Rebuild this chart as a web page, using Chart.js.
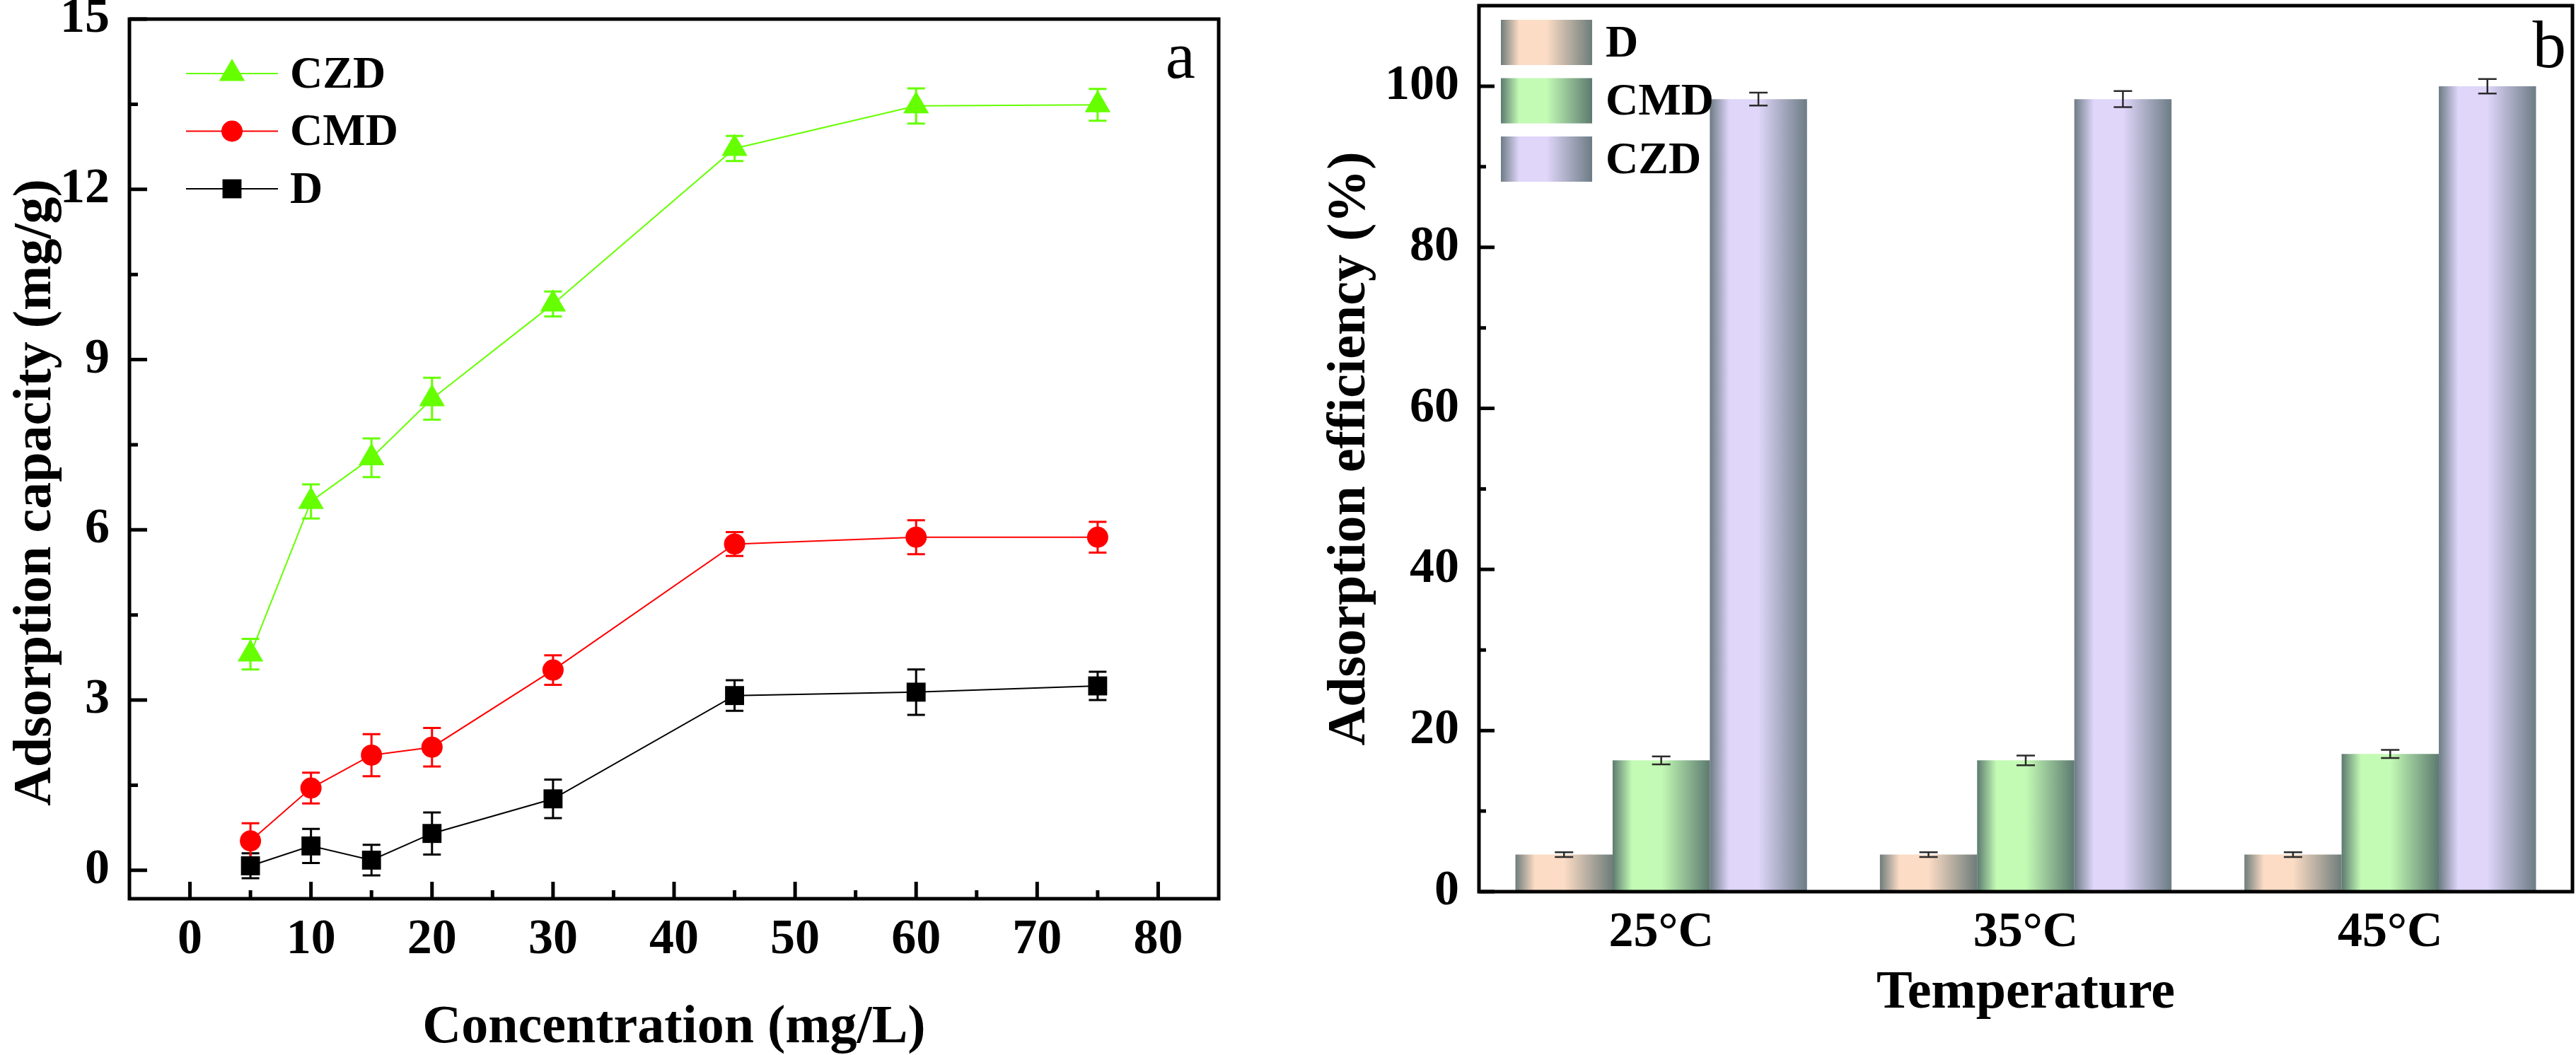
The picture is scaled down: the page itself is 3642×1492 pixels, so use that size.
<!DOCTYPE html>
<html>
<head>
<meta charset="utf-8">
<script src="https://cdn.jsdelivr.net/npm/chart.js@4.4.1/dist/chart.umd.min.js"></script>
<style>
  html, body { margin: 0; padding: 0; background: #fff; }
  #wrap { position: relative; width: 3642px; height: 1492px; }
  canvas { position: absolute; top: 0; }
</style>
</head>
<body>
<div id="wrap">
  <canvas id="capacity" width="1800" height="1492" style="left:0"></canvas>
  <canvas id="efficiency" width="1842" height="1492" style="left:1800px"></canvas>
</div>
<script>
// panel a: adsorption capacity vs concentration
const concentration = [5, 10, 15, 20, 30, 45, 60, 75];
const capD = [0.08, 0.43, 0.18, 0.65, 1.26, 3.08, 3.14, 3.25];
const capDErr = [0.22, 0.30, 0.27, 0.37, 0.34, 0.27, 0.40, 0.25];
const capCMD = [0.52, 1.45, 2.03, 2.17, 3.53, 5.75, 5.87, 5.87];
const capCMDErr = [0.31, 0.27, 0.37, 0.34, 0.26, 0.21, 0.30, 0.27];
const capCZD = [3.81, 6.50, 7.27, 8.31, 9.98, 12.72, 13.47, 13.49];
const capCZDErr = [0.27, 0.30, 0.34, 0.37, 0.22, 0.22, 0.31, 0.28];
const concTicks = [0, 10, 20, 30, 40, 50, 60, 70, 80];
const concMinor = [5, 15, 25, 35, 45, 55, 65, 75];
const capTicks = [0, 3, 6, 9, 12, 15];
const capMinor = [1.5, 4.5, 7.5, 10.5, 13.5];

// panel b: adsorption efficiency vs temperature
const temperatures = ['25\u00B0C', '35\u00B0C', '45\u00B0C'];
const effD = [4.6, 4.6, 4.6];
const effDErr = [0.3, 0.3, 0.3];
const effCMD = [16.3, 16.3, 17.1];
const effCMDErr = [0.5, 0.6, 0.5];
const effCZD = [98.4, 98.4, 100.0];
const effCZDErr = [0.8, 1.0, 0.9];
const effTicks = [0, 20, 40, 60, 80, 100];
const effMinor = [10, 30, 50, 70, 90];

const SERIF = '"Liberation Serif", "Times New Roman", serif';
const tickFont = { family: SERIF, size: 70, weight: 'bold' };
const titleFont = { family: SERIF, size: 76, weight: 'bold', lineHeight: 1 };

function valueOf(d) { return typeof d === 'object' ? d.y : d; }

function drawErrors(chart, opts) {
  const ctx = chart.ctx;
  const yScale = chart.scales.y;
  chart.data.datasets.forEach((ds, di) => {
    if (!ds.errors) return;
    const meta = chart.getDatasetMeta(di);
    ctx.save();
    ctx.strokeStyle = opts.color || ds.borderColor;
    ctx.lineWidth = opts.width;
    meta.data.forEach((el, i) => {
      const v = valueOf(ds.data[i]);
      const e = ds.errors[i];
      const top = yScale.getPixelForValue(v + e);
      const bot = yScale.getPixelForValue(v - e);
      const half = opts.cap / 2;
      ctx.beginPath();
      ctx.moveTo(el.x, top); ctx.lineTo(el.x, bot);
      ctx.moveTo(el.x - half, top); ctx.lineTo(el.x + half, top);
      ctx.moveTo(el.x - half, bot); ctx.lineTo(el.x + half, bot);
      ctx.stroke();
    });
    ctx.restore();
  });
}

const errorBars = {
  id: 'errorBars',
  beforeDatasetsDraw(chart, args, opts) { if (opts.under) drawErrors(chart, opts); },
  afterDatasetsDraw(chart, args, opts) { if (!opts.under) drawErrors(chart, opts); }
};

// cylinder-like shading on each bar
const barShade = {
  id: 'barShade',
  beforeDatasetsDraw(chart) {
    const ctx = chart.ctx;
    chart.data.datasets.forEach((ds, di) => {
      if (!ds.shade) return;
      chart.getDatasetMeta(di).data.forEach(el => {
        const x0 = el.x - el.width / 2, x1 = el.x + el.width / 2;
        const g = ctx.createLinearGradient(x0, 0, x1, 0);
        g.addColorStop(0, ds.shade[0]);
        g.addColorStop(0.2, ds.shade[1]);
        g.addColorStop(0.5, ds.shade[1]);
        g.addColorStop(1, ds.shade[0]);
        el.options.backgroundColor = g;
      });
    });
  }
};

// box frame with inward ticks and the panel letter
const axesFrame = {
  id: 'axesFrame',
  afterDraw(chart, args, o) {
    const { ctx, chartArea: a, scales } = chart;
    ctx.save();
    ctx.strokeStyle = '#000';
    ctx.lineWidth = o.tickWidth;
    ctx.beginPath();
    if (o.xMajor) {
      scales.x.ticks.forEach(t => {
        const px = scales.x.getPixelForValue(t.value);
        ctx.moveTo(px, a.bottom); ctx.lineTo(px, a.bottom - o.xMajor);
      });
      (o.xMinorValues || []).forEach(v => {
        const px = scales.x.getPixelForValue(v);
        ctx.moveTo(px, a.bottom); ctx.lineTo(px, a.bottom - o.xMinor);
      });
    }
    scales.y.ticks.forEach(t => {
      const py = scales.y.getPixelForValue(t.value);
      ctx.moveTo(a.left, py); ctx.lineTo(a.left + o.yMajor, py);
    });
    (o.yMinorValues || []).forEach(v => {
      const py = scales.y.getPixelForValue(v);
      ctx.moveTo(a.left, py); ctx.lineTo(a.left + o.yMinor, py);
    });
    ctx.stroke();
    ctx.lineWidth = o.frameWidth;
    ctx.strokeRect(a.left, a.top, a.right - a.left, a.bottom - a.top);
    ctx.fillStyle = '#000';
    ctx.font = 'normal 95px ' + SERIF;
    ctx.textAlign = 'right';
    ctx.textBaseline = 'alphabetic';
    ctx.fillText(o.letter, a.right + o.letterDx, a.top + o.letterDy);
    ctx.restore();
  }
};

const insetLegend = {
  id: 'insetLegend',
  afterDraw(chart, args, o) {
    const { ctx, chartArea: a } = chart;
    let items = chart.data.datasets.slice();
    if (o.reverse) items.reverse();
    ctx.save();
    ctx.font = 'bold 64px ' + SERIF;
    ctx.fillStyle = '#000';
    ctx.textAlign = 'left';
    ctx.textBaseline = 'middle';
    items.forEach((ds, i) => {
      const x0 = a.left + o.dx;
      const y = a.top + o.dy + i * o.rowGap;
      if (o.kind === 'line') {
        ctx.strokeStyle = ds.borderColor;
        ctx.lineWidth = 2;
        ctx.beginPath(); ctx.moveTo(x0, y); ctx.lineTo(x0 + 130, y); ctx.stroke();
        ctx.fillStyle = ds.backgroundColor;
        Chart.helpers.drawPoint(ctx, { pointStyle: ds.pointStyle, radius: ds.pointRadius, rotation: 0, borderWidth: 0 }, x0 + 65, y);
        ctx.fillStyle = '#000';
        ctx.fillText(ds.label, x0 + 147, y + 3);
      } else {
        const g = ctx.createLinearGradient(x0, 0, x0 + 129, 0);
        g.addColorStop(0, ds.shade[0]);
        g.addColorStop(0.2, ds.shade[1]);
        g.addColorStop(0.5, ds.shade[1]);
        g.addColorStop(1, ds.shade[0]);
        ctx.fillStyle = g;
        ctx.fillRect(x0, y, 129, 64);
        ctx.fillStyle = '#000';
        ctx.fillText(ds.label, x0 + 148, y + 35);
      }
    });
    ctx.restore();
  }
};

function lineSeries(label, ys, errs, color, style, radius) {
  return {
    label: label,
    data: concentration.map((x, i) => ({ x: x, y: ys[i] })),
    errors: errs,
    borderColor: color,
    backgroundColor: color,
    borderWidth: 2,
    pointStyle: style,
    pointRadius: radius,
    pointBorderWidth: 0,
    pointBackgroundColor: color
  };
}

new Chart(document.getElementById('capacity'), {
  type: 'line',
  data: {
    datasets: [
      lineSeries('D', capD, capDErr, '#000000', 'rect', 19),
      lineSeries('CMD', capCMD, capCMDErr, '#ff0000', 'circle', 15),
      lineSeries('CZD', capCZD, capCZDErr, '#66ff00', 'triangle', 21)
    ]
  },
  options: {
    responsive: false,
    animation: false,
    devicePixelRatio: 1,
    layout: { padding: { top: 27, right: 77, left: 0, bottom: 0 } },
    plugins: {
      legend: { display: false },
      tooltip: { enabled: false },
      errorBars: { under: true, width: 3, cap: 25 },
      axesFrame: { tickWidth: 5, frameWidth: 5, xMajor: 24, xMinor: 12, xMinorValues: concMinor,
                   yMajor: 25, yMinor: 12, yMinorValues: capMinor, letter: 'a', letterDx: -33, letterDy: 83 },
      insetLegend: { kind: 'line', reverse: true, dx: 80, dy: 77, rowGap: 81.5 }
    },
    scales: {
      x: {
        type: 'linear', min: -5, max: 85,
        afterBuildTicks: s => { s.ticks = concTicks.map(v => ({ value: v })); },
        afterFit: s => { s.height = 221; s.paddingLeft = 0; s.paddingRight = 0; },
        grid: { display: false, drawTicks: false },
        border: { display: false },
        ticks: { font: tickFont, color: '#000', padding: 17, maxRotation: 0, autoSkip: false },
        title: { display: true, text: 'Concentration (mg/L)', font: titleFont, color: '#000', padding: { top: 0, bottom: 0 } }
      },
      y: {
        min: -0.5, max: 15,
        afterBuildTicks: s => { s.ticks = capTicks.map(v => ({ value: v })); },
        afterFit: s => { s.width = 183; s.paddingTop = 0; s.paddingBottom = 0; },
        grid: { display: false, drawTicks: false },
        border: { display: false },
        ticks: { font: tickFont, color: '#000', padding: 28, autoSkip: false },
        // trailing no-break spaces push the title a little lower, as in the original
        title: { display: true, text: 'Adsorption capacity (mg/g)\u00A0\u00A0\u00A0\u00A0\u00A0', font: titleFont, color: '#000', padding: { top: 13, bottom: 0 } }
      }
    }
  },
  plugins: [errorBars, axesFrame, insetLegend]
});

function barSeries(label, ys, errs, shade) {
  return {
    label: label,
    data: ys,
    errors: errs,
    shade: shade,
    backgroundColor: ctx => ctx.dataset.shade[1],
    borderWidth: 0,
    categoryPercentage: 0.8,
    barPercentage: 1.0
  };
}

new Chart(document.getElementById('efficiency'), {
  type: 'bar',
  data: {
    labels: temperatures,
    datasets: [
      barSeries('D', effD, effDErr, ['#6e7d7b', '#fcdcc5']),
      barSeries('CMD', effCMD, effCMDErr, ['#5d7a70', '#c3fbb5']),
      barSeries('CZD', effCZD, effCZDErr, ['#6d7c85', '#dfd6fa'])
    ]
  },
  options: {
    responsive: false,
    animation: false,
    devicePixelRatio: 1,
    layout: { padding: { top: 8, right: 5, left: 0, bottom: 0 } },
    plugins: {
      legend: { display: false },
      tooltip: { enabled: false },
      errorBars: { under: false, width: 2.5, cap: 26, color: '#2b2b2b' },
      axesFrame: { tickWidth: 5, frameWidth: 5, xMajor: 0, yMajor: 22, yMinor: 10, yMinorValues: effMinor,
                   letter: 'b', letterDx: -9, letterDy: 87 },
      insetLegend: { kind: 'bar', reverse: false, dx: 31, dy: 20, rowGap: 82.5 }
    },
    scales: {
      x: {
        afterFit: s => { s.height = 231; s.paddingLeft = 0; s.paddingRight = 0; },
        grid: { display: false, drawTicks: false },
        border: { display: false },
        ticks: { font: tickFont, color: '#000', padding: 17 },
        title: { display: true, text: 'Temperature', font: titleFont, color: '#000', padding: { top: 0, bottom: 49 } }
      },
      y: {
        min: 0, max: 110,
        afterBuildTicks: s => { s.ticks = effTicks.map(v => ({ value: v })); },
        afterFit: s => { s.width = 291; s.paddingTop = 0; s.paddingBottom = 0; },
        grid: { display: false, drawTicks: false },
        border: { display: false },
        ticks: { font: tickFont, color: '#000', padding: 28, autoSkip: false },
        title: { display: true, text: 'Adsorption efficiency (%)', font: titleFont, color: '#000', padding: { top: 71, bottom: 0 } }
      }
    }
  },
  plugins: [barShade, errorBars, axesFrame, insetLegend]
});
</script>
</body>
</html>
